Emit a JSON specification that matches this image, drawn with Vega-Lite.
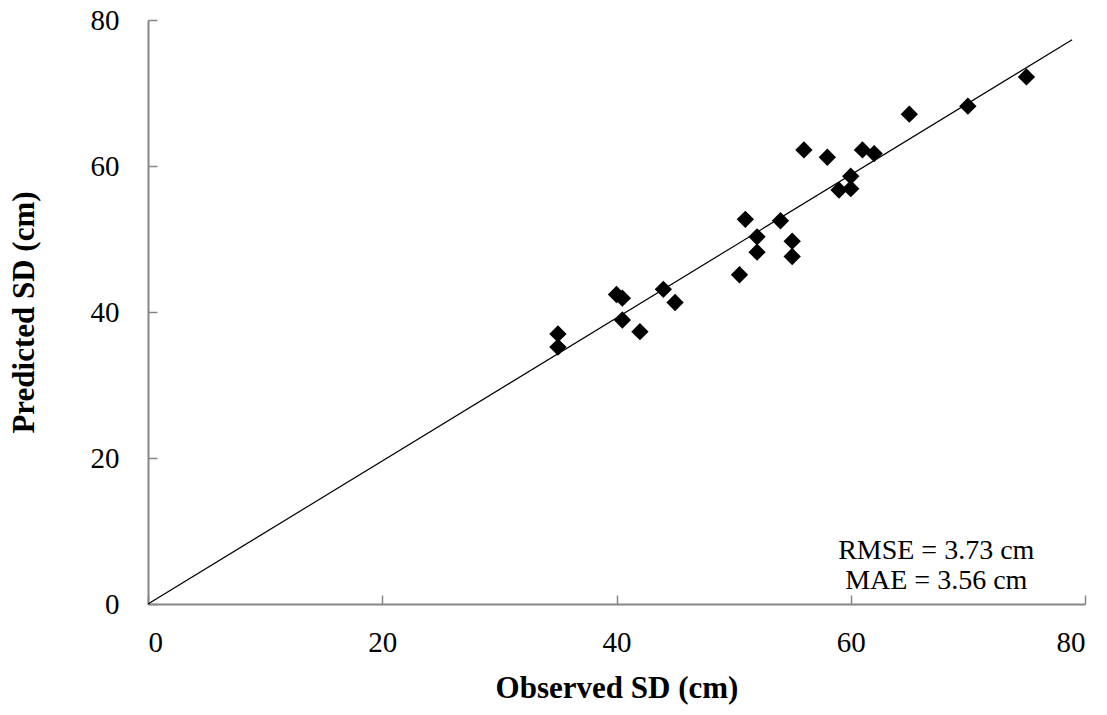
{
  "$schema": "https://vega.github.io/schema/vega-lite/v6.json",
  "width": 937,
  "height": 584,
  "autosize": "none",
  "padding": {"left": 148, "top": 20, "right": 22, "bottom": 111},
  "background": "white",
  "config": {
    "view": {"stroke": null},
    "font": "Liberation Serif",
    "axis": {
      "grid": false,
      "domainColor": "#868686",
      "domainWidth": 2,
      "tickColor": "#868686",
      "tickWidth": 1.5,
      "labelFont": "Liberation Serif",
      "labelFontSize": 29,
      "labelColor": "black",
      "titleFont": "Liberation Serif",
      "titleFontSize": 31,
      "titleFontWeight": "bold",
      "titleColor": "black"
    }
  },
  "datasets": {
    "pts": [
      {"observed": 75, "predicted": 72.2},
      {"observed": 70, "predicted": 68.2},
      {"observed": 65, "predicted": 67.1},
      {"observed": 56, "predicted": 62.2},
      {"observed": 58, "predicted": 61.2},
      {"observed": 61, "predicted": 62.2},
      {"observed": 62, "predicted": 61.7},
      {"observed": 60, "predicted": 58.6},
      {"observed": 59, "predicted": 56.7},
      {"observed": 60, "predicted": 56.9},
      {"observed": 51, "predicted": 52.7},
      {"observed": 54, "predicted": 52.5},
      {"observed": 52, "predicted": 50.3},
      {"observed": 55, "predicted": 49.7},
      {"observed": 52, "predicted": 48.2},
      {"observed": 55, "predicted": 47.6},
      {"observed": 50.5, "predicted": 45.1},
      {"observed": 40, "predicted": 42.4},
      {"observed": 40.5, "predicted": 41.9},
      {"observed": 44, "predicted": 43.1},
      {"observed": 45, "predicted": 41.3},
      {"observed": 40.5, "predicted": 38.9},
      {"observed": 42, "predicted": 37.3},
      {"observed": 35, "predicted": 37.0},
      {"observed": 35, "predicted": 35.2}
    ],
    "fit": [
      {"observed": 0, "predicted": 0},
      {"observed": 78.9, "predicted": 77.3}
    ],
    "stats": [
      {"observed": 67.3, "predicted": 6.1, "label": "RMSE = 3.73 cm"},
      {"observed": 67.3, "predicted": 2.1, "label": "MAE = 3.56 cm"}
    ]
  },
  "layer": [
    {
      "data": {"name": "fit"},
      "mark": {"type": "line", "color": "black", "strokeWidth": 1.2},
      "encoding": {
        "x": {
          "field": "observed", "type": "quantitative",
          "scale": {"domain": [0, 80], "nice": false},
          "axis": {"values": [0, 20, 40, 60, 80], "title": "Observed SD (cm)", "tickSize": -9, "labelPadding": 33, "titlePadding": 16}
        },
        "y": {
          "field": "predicted", "type": "quantitative",
          "scale": {"domain": [0, 80], "nice": false},
          "axis": {"values": [0, 20, 40, 60, 80], "title": "Predicted SD (cm)", "tickSize": -9, "labelPadding": 38, "titlePadding": 50}
        }
      }
    },
    {
      "data": {"name": "pts"},
      "mark": {"type": "point", "shape": "diamond", "filled": true, "color": "black", "size": 300, "opacity": 1},
      "encoding": {
        "x": {"field": "observed", "type": "quantitative"},
        "y": {"field": "predicted", "type": "quantitative"}
      }
    },
    {
      "data": {"name": "stats"},
      "mark": {"type": "text", "font": "Liberation Serif", "fontSize": 28, "color": "black", "align": "center", "baseline": "alphabetic"},
      "encoding": {
        "x": {"field": "observed", "type": "quantitative"},
        "y": {"field": "predicted", "type": "quantitative"},
        "text": {"field": "label"}
      }
    }
  ]
}
